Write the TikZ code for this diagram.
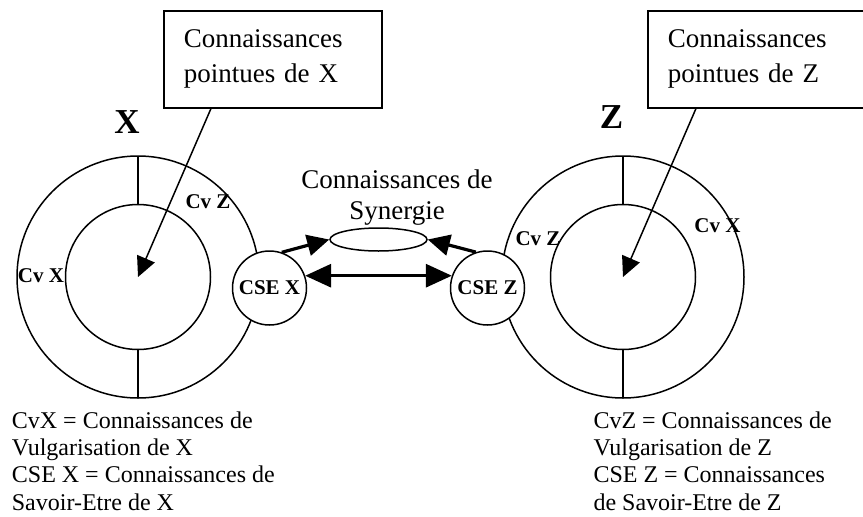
\documentclass[tikz,border=0pt]{standalone}
\usepackage{fontspec}
\setmainfont{Liberation Serif}
\usetikzlibrary{arrows.meta,shapes,positioning}

\begin{document}
\begin{tikzpicture}[x=1pt,y=-1pt,
		knowbox/.style={draw,line width=1.5pt,rectangle,anchor=north west,text width=178pt,inner xsep=20pt,minimum height=97pt,align=left,font=\fontsize{27}{35}\selectfont},
		cselabel/.style={draw,circle,fill=white,line width=1.5pt,minimum size=74pt,inner sep=0pt,font=\bfseries\fontsize{21}{24}\selectfont},
		cvlabel/.style={font=\bfseries\fontsize{21}{24}\selectfont},
		bigname/.style={font=\bfseries\fontsize{35}{40}\selectfont},
		legend/.style={anchor=north west,inner sep=0pt,align=left,font=\fontsize{24}{27.3}\selectfont},
		pointer/.style={line width=1.5pt,-{Triangle[length=20pt,width=19pt]}},
		synarrow/.style={line width=3.2pt,-{Triangle[length=22pt,width=21pt]}},
		exchange/.style={line width=3.2pt,{Triangle[length=26pt,width=23pt]}-{Triangle[length=26pt,width=23pt]}}]
			\useasboundingbox (0,0) rectangle (863,517);
			\clip (0,0) rectangle (863,517);
			% the two rings
			\coordinate (cX) at (138,277);
			\coordinate (cZ) at (623,277);
			\foreach \c in {cX,cZ}{
				\draw[line width=1.5pt] (\c) circle (121) (\c) circle (72.5);
				\draw[line width=1.5pt] (\c) ++(0,-121) -- ++(0,48.5) (\c) ++(0,72.5) -- ++(0,48.5);
			}
			\node[bigname] (nameX) at (127,122.5) {X};
			\node[bigname] (nameZ) at (611.5,117) {Z};
			\node[cvlabel] (cvZinX) at (208,201.5) {Cv Z};
			\node[cvlabel] (cvXinX) at (41,275.5) {Cv X};
			\node[cvlabel] (cvZinZ) at (538,239) {Cv Z};
			\node[cvlabel] (cvXinZ) at (717.5,226) {Cv X};
			% boxes
			\node[knowbox] (boxX) at (163,10) {Connaissances\\pointues de X};
			\node[knowbox] (boxZ) at (647,10) {Connaissances\\pointues de Z};
			% synergy
			\node[cselabel] (cseX) at (269.5,288) {CSE X};
			\node[cselabel] (cseZ) at (487.5,288) {CSE Z};
			\node[draw,ellipse,line width=1.5pt,minimum width=97pt,minimum height=23pt,inner sep=0pt] (syn) at (378.5,239.5) {};
			\node[align=center,font=\fontsize{27}{31}\selectfont] (syntext) at (397,198) {Connaissances de\\Synergie};
			\draw[pointer] ([xshift=48pt]boxX.south west) -- (cX);
			\draw[pointer] ([xshift=49pt]boxZ.south west) -- (cZ);
			\draw[synarrow] (cseX.71) -- (syn.west);
			\draw[synarrow] (cseZ.108) -- (syn.east);
			\draw[exchange] (cseX.19) -- (cseZ.161);
			% legends
			\node[legend] (legX) at (11.7,411.5) {CvX = Connaissances de\\Vulgarisation de X\\CSE X = Connaissances de\\Savoir-Etre de X};
			\node[legend] (legZ) at (593.3,411.5) {CvZ = Connaissances de\\Vulgarisation de Z\\CSE Z = Connaissances\\de Savoir-Etre de Z};
		\end{tikzpicture}
\end{document}
